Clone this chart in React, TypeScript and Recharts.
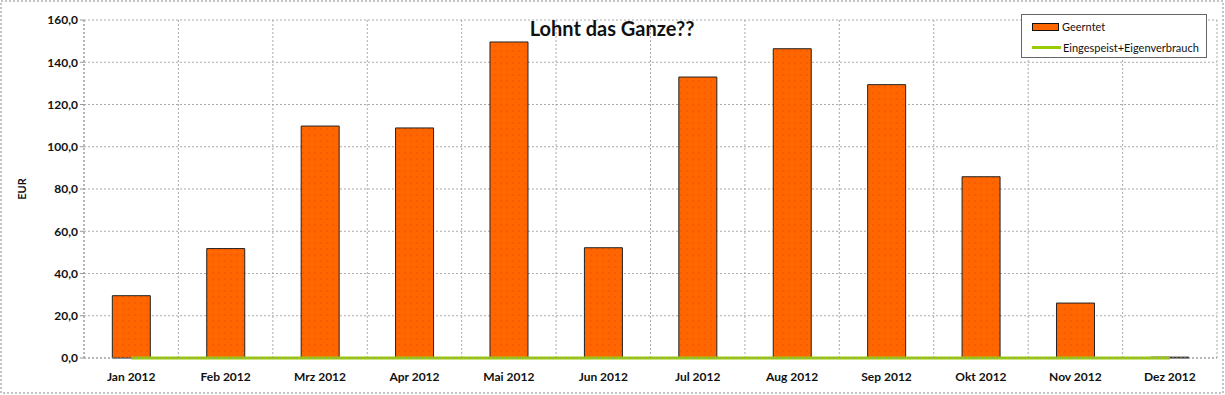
import {
  ComposedChart,
  Bar,
  Line,
  XAxis,
  YAxis,
  CartesianGrid,
  Customized,
} from 'recharts';

const months = [
  'Jan 2012', 'Feb 2012', 'Mrz 2012', 'Apr 2012', 'Mai 2012', 'Jun 2012',
  'Jul 2012', 'Aug 2012', 'Sep 2012', 'Okt 2012', 'Nov 2012', 'Dez 2012',
];
const geerntet = [29.5, 51.8, 109.8, 108.9, 149.6, 52.2, 133.0, 146.4, 129.4, 85.8, 26.0, 0.4];
const eingespeist = [0, 0, 0, 0, 0, 0, 0, 0, 0, 0, 0, 0];
const yTicks = [0, 20, 40, 60, 80, 100, 120, 140, 160];

const W = 1225;
const H = 395;
const FONT = 'Lato, "Open Sans", sans-serif';

const rows = months.map((m, i) => ({ month: m, geerntet: geerntet[i], eingespeist: eingespeist[i] }));

// legend drawn as an overlay so it doesn't eat into the plot area
function LegendBox() {
  return (
    <div
      style={{
        position: 'absolute',
        left: 1021,
        top: 14,
        width: 186,
        height: 44,
        border: '1px solid #666',
        background: '#fff',
        fontFamily: FONT,
        fontSize: 11,
        color: '#111',
        boxSizing: 'border-box',
        padding: '4px 0 0 10px',
      }}
    >
      <div style={{ display: 'flex', alignItems: 'center', height: 15 }}>
        <span
          style={{
            display: 'inline-block',
            width: 25,
            height: 6,
            background: '#FF6600',
            border: '1px solid #111',
            marginRight: 3,
          }}
        />
        Geerntet
      </div>
      <div style={{ display: 'flex', alignItems: 'center', height: 15, marginTop: 6 }}>
        <span
          style={{
            display: 'inline-block',
            width: 29,
            height: 3,
            background: '#99CC00',
            marginRight: 2,
          }}
        />
        Eingespeist+Eigenverbrauch
      </div>
    </div>
  );
}

export default function App() {
  return (
    <div style={{ position: 'absolute', left: 0, top: 0, width: W, height: H, background: '#fff' }}>
      <ComposedChart
        width={W}
        height={H}
        data={rows}
        margin={{ top: 20, right: 8, bottom: 7, left: 0 }}
        barCategoryGap="30%"
      >
        <defs>
          <pattern id="dots" width="6" height="6" patternUnits="userSpaceOnUse">
            <rect width="6" height="6" fill="#FF6600" />
            <circle cx="3" cy="3" r="0.6" fill="#E83800" />
          </pattern>
        </defs>
        <Customized
          component={() => (
            <rect x={1} y={1} width={W - 3} height={H - 3} fill="none" stroke="#888" strokeDasharray="2 2" />
          )}
        />
        <CartesianGrid
          stroke="#aaa"
          strokeDasharray="2 2"
          verticalCoordinatesGenerator={({ offset }: any) =>
            Array.from({ length: months.length + 1 }, (_, i) => offset.left + (i * offset.width) / months.length)
          }
        />
        <XAxis
          dataKey="month"
          interval={0}
          height={30}
          tickLine={false}
          axisLine={{ stroke: '#999', strokeDasharray: '2 2' }}
          tick={{ fill: '#111', fontSize: 12, fontWeight: 700, fontFamily: FONT }}
          tickMargin={8}
        />
        <YAxis
          domain={[0, 160]}
          ticks={yTicks}
          width={84}
          interval={0}
          tickFormatter={(v: number) => v.toFixed(1).replace('.', ',')}
          axisLine={{ stroke: '#999', strokeDasharray: '2 2' }}
          tickLine={{ stroke: '#999' }}
          tickSize={4}
          tickMargin={2}
          tick={{ fill: '#111', fontSize: 12, fontWeight: 700, fontFamily: FONT }}
          label={{
            value: 'EUR',
            angle: -90,
            position: 'insideLeft',
            offset: 22,
            style: { fill: '#111', fontSize: 11, fontWeight: 700, fontFamily: FONT, textAnchor: 'middle' },
          }}
        />
        <Bar
          dataKey="geerntet"
          name="Geerntet"
          fill="url(#dots)"
          stroke="#222"
          strokeWidth={1}
          isAnimationActive={false}
        />
        <Line
          dataKey="eingespeist"
          name="Eingespeist+Eigenverbrauch"
          stroke="#99CC00"
          strokeWidth={3}
          dot={false}
          type="linear"
          isAnimationActive={false}
        />
        <text
          x={612}
          y={36}
          textAnchor="middle"
          fontFamily={FONT}
          fontSize={20}
          fontWeight={700}
          fill="#111"
        >
          Lohnt das Ganze??
        </text>
      </ComposedChart>
      <LegendBox />
    </div>
  );
}
